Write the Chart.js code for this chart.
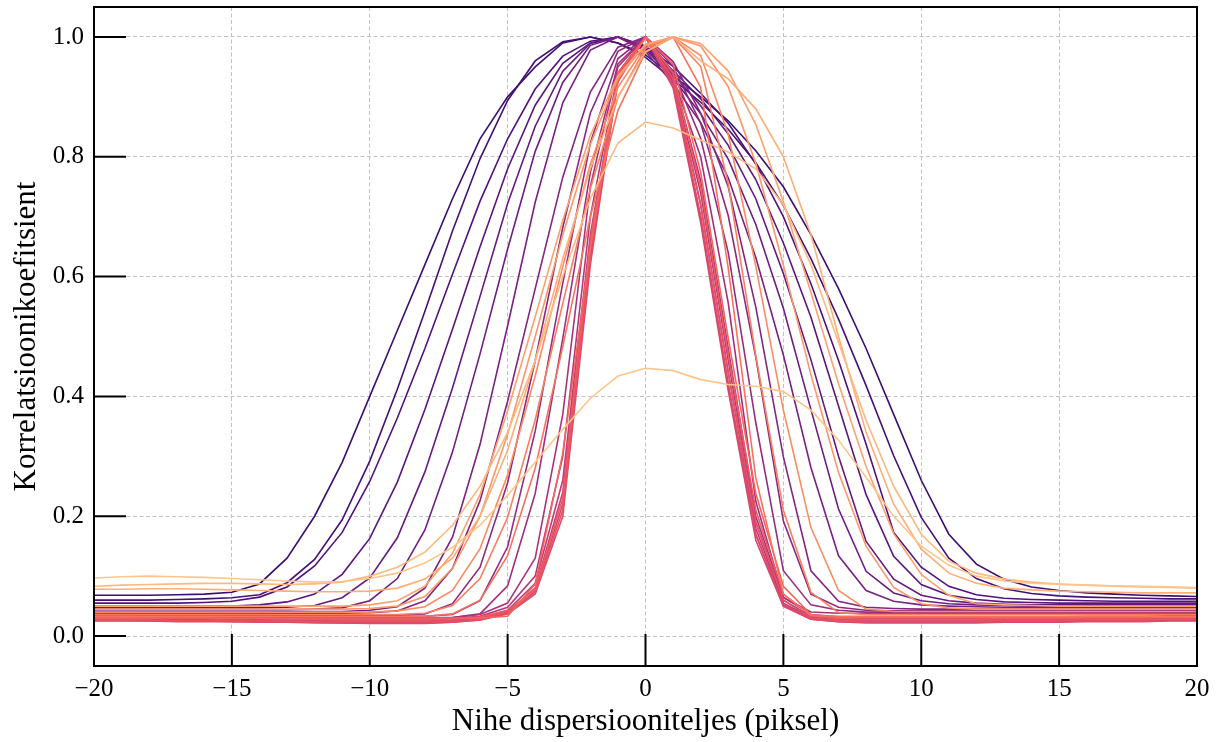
<!DOCTYPE html>
<html lang="et">
<head>
<meta charset="UTF-8">
<title>Korrelatsioonikoefitsient</title>
<script src="https://cdn.jsdelivr.net/npm/chart.js"></script>
<style>
  html, body { margin: 0; padding: 0; background: #fff; }
</style>
</head>
<body>
<canvas id="chart" width="1220" height="742"></canvas>
<script>
// nihe (piksel) -20 ... 20
const nihe = [-20,-19,-18,-17,-16,-15,-14,-13,-12,-11,-10,-9,-8,-7,-6,-5,-4,-3,-2,-1,0,
              1,2,3,4,5,6,7,8,9,10,11,12,13,14,15,16,17,18,19,20];
const xTicks = [-20, -15, -10, -5, 0, 5, 10, 15, 20];
const yTicks = [0.0, 0.2, 0.4, 0.6, 0.8, 1.0];

// korrelatsioonikõverad, värvi järjekorras (tumelilla -> heleoranž)
const k00 = [0.068,0.068,0.068,0.069,0.070,0.073,0.087,0.13,0.20,0.29,0.40,0.51,0.62,0.73,0.83,0.90,0.95,0.99,1.0,0.99,0.97,0.935,0.90,0.86,0.81,0.75,0.67,0.58,0.48,0.37,0.26,0.17,0.12,0.095,0.082,0.076,0.072,0.07,0.068,0.067,0.066];
const k01 = [0.06,0.06,0.06,0.061,0.062,0.064,0.069,0.089,0.128,0.194,0.292,0.412,0.542,0.676,0.797,0.894,0.96,0.992,1.0,0.99,0.966,0.929,0.891,0.846,0.79,0.719,0.63,0.529,0.418,0.301,0.198,0.13,0.096,0.079,0.071,0.067,0.065,0.064,0.063,0.062,0.062];
const k02 = [0.055,0.055,0.055,0.055,0.056,0.058,0.065,0.082,0.117,0.173,0.258,0.364,0.48,0.604,0.726,0.83,0.913,0.968,0.993,1.0,0.985,0.951,0.906,0.856,0.788,0.70,0.588,0.46,0.32,0.173,0.115,0.083,0.069,0.063,0.061,0.06,0.059,0.058,0.058,0.058,0.058];
const k03 = [0.05,0.05,0.05,0.05,0.05,0.05,0.052,0.057,0.07,0.103,0.163,0.257,0.378,0.512,0.65,0.78,0.886,0.956,0.99,1.0,0.983,0.944,0.897,0.838,0.762,0.656,0.532,0.384,0.236,0.133,0.086,0.068,0.061,0.057,0.056,0.055,0.055,0.055,0.055,0.055,0.055];
const k04 = [0.047,0.047,0.047,0.047,0.047,0.047,0.047,0.048,0.051,0.064,0.097,0.164,0.274,0.414,0.567,0.722,0.851,0.943,0.989,1.0,0.981,0.938,0.885,0.819,0.73,0.605,0.461,0.30,0.158,0.095,0.068,0.059,0.055,0.053,0.052,0.052,0.052,0.052,0.052,0.052,0.052];
const k05 = [0.044,0.044,0.044,0.044,0.044,0.044,0.044,0.044,0.045,0.047,0.059,0.096,0.177,0.307,0.471,0.646,0.809,0.924,0.986,1.0,0.979,0.931,0.872,0.796,0.687,0.547,0.378,0.212,0.108,0.072,0.059,0.054,0.052,0.051,0.05,0.05,0.05,0.05,0.05,0.05,0.05];
const k06 = [0.041,0.041,0.041,0.041,0.041,0.041,0.041,0.041,0.041,0.041,0.043,0.049,0.08,0.165,0.32,0.518,0.724,0.89,0.978,1.0,0.976,0.922,0.857,0.765,0.632,0.469,0.281,0.134,0.076,0.058,0.052,0.05,0.049,0.048,0.048,0.048,0.048,0.048,0.048,0.048,0.048];
const k07 = [0.038,0.038,0.038,0.038,0.038,0.038,0.038,0.038,0.038,0.038,0.039,0.042,0.059,0.113,0.226,0.392,0.58,0.766,0.908,0.983,1.0,0.959,0.873,0.75,0.549,0.299,0.109,0.058,0.048,0.046,0.045,0.045,0.045,0.045,0.045,0.045,0.045,0.045,0.045,0.045,0.045];
const k08 = [0.035,0.035,0.035,0.035,0.035,0.035,0.035,0.035,0.035,0.035,0.035,0.035,0.037,0.054,0.115,0.256,0.46,0.682,0.873,0.976,1.0,0.951,0.856,0.702,0.465,0.192,0.07,0.048,0.043,0.042,0.042,0.042,0.042,0.042,0.042,0.042,0.042,0.042,0.042,0.042,0.042];
const k09 = [0.033,0.033,0.033,0.033,0.033,0.033,0.033,0.033,0.033,0.033,0.033,0.033,0.033,0.036,0.059,0.149,0.342,0.589,0.823,0.964,1.0,0.942,0.831,0.64,0.356,0.109,0.052,0.043,0.04,0.04,0.04,0.04,0.04,0.04,0.04,0.04,0.04,0.04,0.04,0.04,0.04];
const k10 = [0.031,0.031,0.031,0.031,0.031,0.031,0.031,0.031,0.031,0.031,0.031,0.031,0.031,0.031,0.037,0.084,0.238,0.497,0.774,0.955,1.0,0.932,0.80,0.556,0.225,0.064,0.04,0.038,0.038,0.038,0.038,0.038,0.038,0.038,0.038,0.038,0.038,0.038,0.038,0.038,0.038];
const k11 = [0.034,0.034,0.033,0.033,0.033,0.032,0.032,0.031,0.031,0.03,0.03,0.03,0.03,0.031,0.036,0.055,0.13,0.37,0.75,0.95,1.0,0.935,0.76,0.48,0.2,0.065,0.036,0.032,0.031,0.031,0.031,0.031,0.031,0.032,0.032,0.032,0.033,0.033,0.033,0.034,0.034];
const k12 = [0.032,0.032,0.031,0.031,0.031,0.030,0.030,0.029,0.029,0.028,0.028,0.028,0.028,0.029,0.033,0.048,0.1,0.3,0.7,0.94,1.0,0.93,0.74,0.46,0.19,0.06,0.033,0.03,0.029,0.029,0.029,0.029,0.029,0.030,0.030,0.030,0.031,0.031,0.031,0.032,0.032];
const k13 = [0.030,0.030,0.029,0.029,0.029,0.028,0.028,0.027,0.027,0.026,0.026,0.026,0.026,0.027,0.031,0.043,0.088,0.26,0.67,0.935,1.0,0.925,0.72,0.44,0.18,0.055,0.031,0.028,0.027,0.027,0.027,0.027,0.027,0.028,0.028,0.028,0.029,0.029,0.029,0.030,0.030];
const k14 = [0.028,0.028,0.027,0.027,0.027,0.026,0.026,0.025,0.025,0.024,0.024,0.024,0.024,0.025,0.029,0.04,0.08,0.24,0.65,0.93,1.0,0.92,0.70,0.42,0.17,0.052,0.029,0.026,0.025,0.025,0.025,0.025,0.025,0.026,0.026,0.026,0.027,0.027,0.027,0.028,0.028];
const k15 = [0.026,0.026,0.025,0.025,0.025,0.024,0.024,0.023,0.023,0.022,0.022,0.022,0.022,0.023,0.027,0.038,0.075,0.22,0.63,0.925,1.0,0.915,0.69,0.41,0.16,0.05,0.028,0.024,0.023,0.023,0.023,0.023,0.023,0.024,0.024,0.024,0.025,0.025,0.025,0.026,0.026];
const k16 = [0.025,0.025,0.025,0.024,0.024,0.024,0.023,0.023,0.022,0.022,0.021,0.021,0.021,0.023,0.027,0.037,0.07,0.2,0.62,0.93,1.0,0.92,0.70,0.42,0.17,0.05,0.028,0.024,0.022,0.022,0.022,0.022,0.022,0.023,0.023,0.023,0.024,0.024,0.024,0.025,0.025];
const k17 = [0.027,0.027,0.027,0.026,0.026,0.026,0.025,0.025,0.024,0.024,0.024,0.024,0.024,0.025,0.029,0.039,0.072,0.21,0.64,0.935,1.0,0.93,0.72,0.44,0.19,0.06,0.03,0.026,0.025,0.025,0.025,0.025,0.025,0.026,0.026,0.026,0.027,0.027,0.027,0.028,0.028];
const k18 = [0.031,0.031,0.030,0.030,0.030,0.029,0.029,0.028,0.028,0.027,0.027,0.027,0.027,0.028,0.032,0.042,0.078,0.23,0.66,0.94,1.0,0.94,0.75,0.47,0.21,0.07,0.034,0.029,0.028,0.028,0.028,0.028,0.028,0.029,0.029,0.029,0.030,0.030,0.030,0.031,0.031];
const k19 = [0.03,0.03,0.03,0.03,0.03,0.03,0.03,0.03,0.03,0.03,0.03,0.03,0.03,0.03,0.03,0.033,0.087,0.305,0.647,0.927,1.0,0.955,0.774,0.497,0.238,0.083,0.036,0.031,0.031,0.031,0.031,0.031,0.031,0.031,0.031,0.031,0.031,0.031,0.031,0.031,0.031];
const k20 = [0.033,0.033,0.033,0.033,0.033,0.033,0.033,0.033,0.033,0.033,0.033,0.033,0.033,0.037,0.06,0.134,0.28,0.483,0.70,0.877,0.975,1.0,0.916,0.614,0.264,0.07,0.034,0.033,0.033,0.033,0.033,0.033,0.033,0.033,0.033,0.033,0.033,0.033,0.033,0.033,0.033];
const k21 = [0.036,0.036,0.036,0.036,0.036,0.036,0.036,0.036,0.036,0.036,0.036,0.036,0.038,0.051,0.096,0.198,0.361,0.555,0.747,0.899,0.981,1.0,0.951,0.755,0.468,0.21,0.073,0.039,0.036,0.036,0.036,0.036,0.036,0.036,0.036,0.036,0.036,0.036,0.036,0.036,0.036];
const k22 = [0.04,0.04,0.04,0.04,0.04,0.04,0.04,0.04,0.04,0.04,0.04,0.042,0.049,0.076,0.146,0.269,0.434,0.617,0.788,0.916,0.985,1.0,0.969,0.838,0.617,0.377,0.181,0.076,0.045,0.041,0.041,0.041,0.041,0.041,0.041,0.041,0.041,0.041,0.041,0.041,0.041];
const k23 = [0.045,0.045,0.045,0.045,0.045,0.045,0.045,0.045,0.045,0.045,0.046,0.05,0.066,0.113,0.2,0.337,0.5,0.67,0.821,0.931,0.987,1.0,0.985,0.917,0.789,0.619,0.436,0.273,0.15,0.081,0.054,0.047,0.045,0.045,0.045,0.045,0.045,0.045,0.045,0.045,0.045];
const k24 = [0.05,0.05,0.05,0.05,0.05,0.05,0.05,0.05,0.05,0.05,0.052,0.059,0.083,0.138,0.236,0.376,0.533,0.694,0.836,0.935,0.988,1.0,0.989,0.943,0.854,0.725,0.573,0.421,0.283,0.171,0.103,0.068,0.054,0.052,0.051,0.05,0.05,0.05,0.05,0.05,0.05];
const k25 = [0.078,0.078,0.079,0.079,0.078,0.077,0.076,0.075,0.074,0.074,0.075,0.08,0.095,0.13,0.2,0.31,0.46,0.63,0.78,0.9,0.975,1.0,0.96,0.93,0.88,0.80,0.67,0.50,0.34,0.22,0.145,0.105,0.088,0.08,0.077,0.075,0.074,0.073,0.072,0.072,0.072];
const k26 = [0.083,0.085,0.086,0.087,0.088,0.088,0.087,0.086,0.087,0.09,0.1,0.115,0.14,0.185,0.25,0.34,0.46,0.6,0.73,0.823,0.858,0.848,0.828,0.808,0.78,0.72,0.62,0.49,0.36,0.25,0.17,0.125,0.105,0.095,0.09,0.087,0.085,0.083,0.082,0.081,0.08];
const k27 = [0.097,0.099,0.1,0.099,0.098,0.096,0.094,0.092,0.09,0.091,0.096,0.105,0.122,0.148,0.185,0.235,0.29,0.345,0.397,0.434,0.447,0.443,0.428,0.42,0.417,0.408,0.377,0.327,0.265,0.2,0.15,0.118,0.1,0.092,0.088,0.086,0.085,0.084,0.083,0.082,0.081];

const curves = [k00,k01,k02,k03,k04,k05,k06,k07,k08,k09,k10,k11,k12,k13,
                k14,k15,k16,k17,k18,k19,k20,k21,k22,k23,k24,k25,k26,k27];

// magma, 0.20 ... 0.90 step 0.05
const magma = ['#3b0f70','#51127c','#641a80','#782281','#8c2981','#a1307e','#b73779',
               '#cb3e71','#de4968','#ec5860','#f7705c','#fc8961','#fe9f6d','#feb77e','#fecf92'];
function hexRgb(h) {
  return [1, 3, 5].map(i => parseInt(h.substr(i, 2), 16));
}
function magmaAt(t) {
  const f = (t - 0.2) / 0.05;
  const i = Math.max(0, Math.min(magma.length - 2, Math.floor(f)));
  const w = f - i;
  const a = hexRgb(magma[i]), b = hexRgb(magma[i + 1]);
  const c = a.map((v, j) => Math.round(v + (b[j] - v) * w));
  return 'rgb(' + c.join(',') + ')';
}

const SERIF = '"Liberation Serif", "Times New Roman", serif';

const datasets = curves.map((vals, k) => ({
  data: vals.map((v, i) => ({x: nihe[i], y: v})),
  borderColor: magmaAt(0.2 + 0.68 * k / (curves.length - 1)),
  borderWidth: 1.6,
  pointRadius: 0,
  fill: false,
  tension: 0,
  order: curves.length - k
}));

// raam ja sissepoole suunatud tikid
const frame = {
  id: 'frame',
  afterDatasetsDraw(chart) {
    const {ctx, chartArea: a, scales: {x, y}} = chart;
    ctx.save();
    ctx.strokeStyle = '#000';
    ctx.lineWidth = 2;
    ctx.beginPath();
    xTicks.forEach(v => {
      const px = x.getPixelForValue(v);
      ctx.moveTo(px, a.bottom);
      ctx.lineTo(px, a.bottom - 32);
    });
    yTicks.forEach(v => {
      const py = y.getPixelForValue(v);
      ctx.moveTo(a.left, py);
      ctx.lineTo(a.left + 32, py);
    });
    ctx.stroke();
    ctx.strokeRect(a.left, a.top, a.right - a.left, a.bottom - a.top);
    ctx.restore();
  }
};

new Chart(document.getElementById('chart'), {
  type: 'line',
  data: {datasets},
  options: {
    responsive: false,
    animation: false,
    devicePixelRatio: 1,
    layout: {padding: {top: 7, right: 23, left: 0, bottom: 0}},
    plugins: {legend: {display: false}, tooltip: {enabled: false}},
    scales: {
      x: {
        type: 'linear',
        min: -20,
        max: 20,
        afterBuildTicks: s => { s.ticks = xTicks.map(v => ({value: v})); },
        afterFit: s => { s.height = 76; s.paddingLeft = 0; s.paddingRight = 0; },
        ticks: {
          callback: v => (v < 0 ? '\u2212' + Math.abs(v) : String(v)),
          font: {family: SERIF, size: 25},
          color: '#000',
          padding: 8,
          maxRotation: 0,
          autoSkip: false
        },
        grid: {color: '#c2c2c2', lineWidth: 1, drawTicks: false},
        border: {display: false, dash: [4, 2.5]},
        title: {
          display: true,
          text: 'Nihe dispersiooniteljes (piksel)',
          font: {family: SERIF, size: 31, lineHeight: 1.2},
          color: '#000',
          padding: {top: 0, bottom: 1.5}
        }
      },
      y: {
        type: 'linear',
        min: -0.05,
        max: 1.05,
        afterBuildTicks: s => { s.ticks = yTicks.map(v => ({value: v})); },
        afterFit: s => { s.width = 94; s.paddingTop = 0; s.paddingBottom = 0; },
        ticks: {
          callback: v => v.toFixed(1),
          font: {family: SERIF, size: 25},
          color: '#000',
          padding: 10
        },
        grid: {color: '#c2c2c2', lineWidth: 1, drawTicks: false},
        border: {display: false, dash: [4, 2.5]},
        title: {
          display: true,
          text: 'Korrelatsioonikoefitsient',
          font: {family: SERIF, size: 31, lineHeight: 1.2},
          color: '#000',
          padding: {top: 8.5, bottom: 0}
        }
      }
    }
  },
  plugins: [frame]
});
</script>
</body>
</html>
